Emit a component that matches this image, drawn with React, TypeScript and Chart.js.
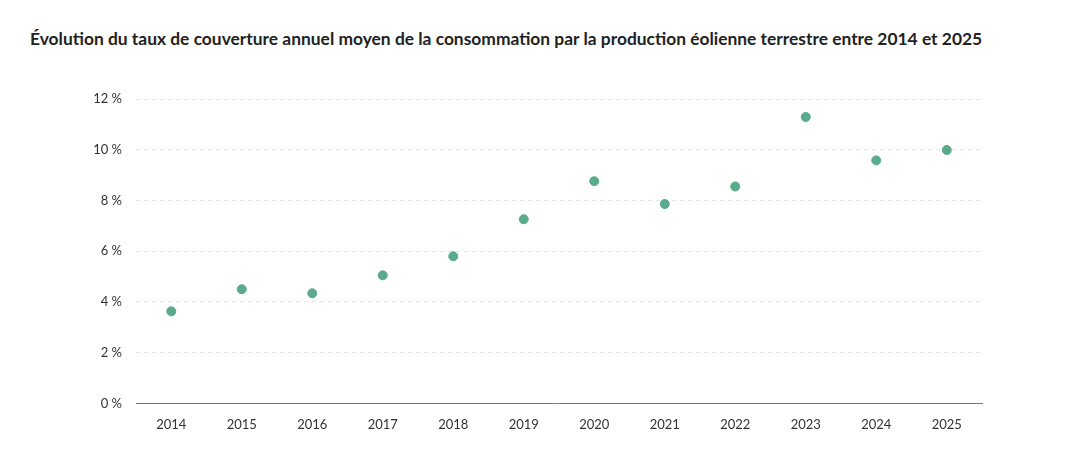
import React, { useEffect, useRef } from "react";
import { Chart, registerables } from "chart.js";

Chart.register(...registerables);

const TITLE =
  "Évolution du taux de couverture annuel moyen de la consommation par la production éolienne terrestre entre 2014 et 2025";
const years = ["2014", "2015", "2016", "2017", "2018", "2019", "2020", "2021", "2022", "2023", "2024", "2025"];
const coverage = [3.63, 4.5, 4.34, 5.05, 5.8, 7.26, 8.76, 7.86, 8.55, 11.29, 9.58, 9.99];
const yTicks = [0, 2, 4, 6, 8, 10, 12];

const FONT = "Lato, 'Open Sans', sans-serif";

export default function App() {
  const ref = useRef<HTMLCanvasElement | null>(null);

  useEffect(() => {
    if (!ref.current) return;
    const chart = new Chart(ref.current, {
      type: "scatter",
      data: {
        labels: years,
        datasets: [
          {
            data: coverage,
            backgroundColor: "#5aab8b",
            borderColor: "#5aab8b",
            pointRadius: 4.5,
            pointHoverRadius: 5,
            showLine: false,
          },
        ],
      },
      options: {
        animation: false,
        responsive: false,
        layout: { padding: { top: 99, right: 108, bottom: 20, left: 0 } },
        plugins: { legend: { display: false }, tooltip: { enabled: false }, title: { display: false } },
        scales: {
          x: {
            type: "category",
            offset: true,
            grid: { display: false, drawTicks: false },
            border: { display: true, color: "#777777", width: 1 },
            ticks: { color: "#333333", font: { family: FONT, size: 13 }, padding: 14 },
          },
          y: {
            min: 0,
            max: 12,
            afterFit: (s: any) => {
              s.width = 136;
            },
            afterBuildTicks: (s: any) => {
              s.ticks = yTicks.map((v) => ({ value: v }));
            },
            grid: { color: "#e6e6e6", drawTicks: false, lineWidth: 1 },
            border: { display: false, dash: [4, 4] },
            ticks: {
              color: "#333333",
              font: { family: FONT, size: 13 },
              padding: 14,
              callback: (v: any) => `${v} %`,
            },
          },
        },
      },
    });
    return () => chart.destroy();
  }, []);

  return (
    <div style={{ position: "fixed", left: 0, top: 0, width: 1090, height: 467, background: "#fff" }}>
      <div
        style={{
          position: "absolute",
          left: 30,
          top: 28,
          fontFamily: FONT,
          fontWeight: 700,
          fontSize: 17.4,
          color: "#222",
          whiteSpace: "nowrap",
        }}
      >
        {TITLE}
      </div>
      <canvas ref={ref} width={1090} height={467} style={{ position: "absolute", left: 0, top: 0 }} />
    </div>
  );
}
